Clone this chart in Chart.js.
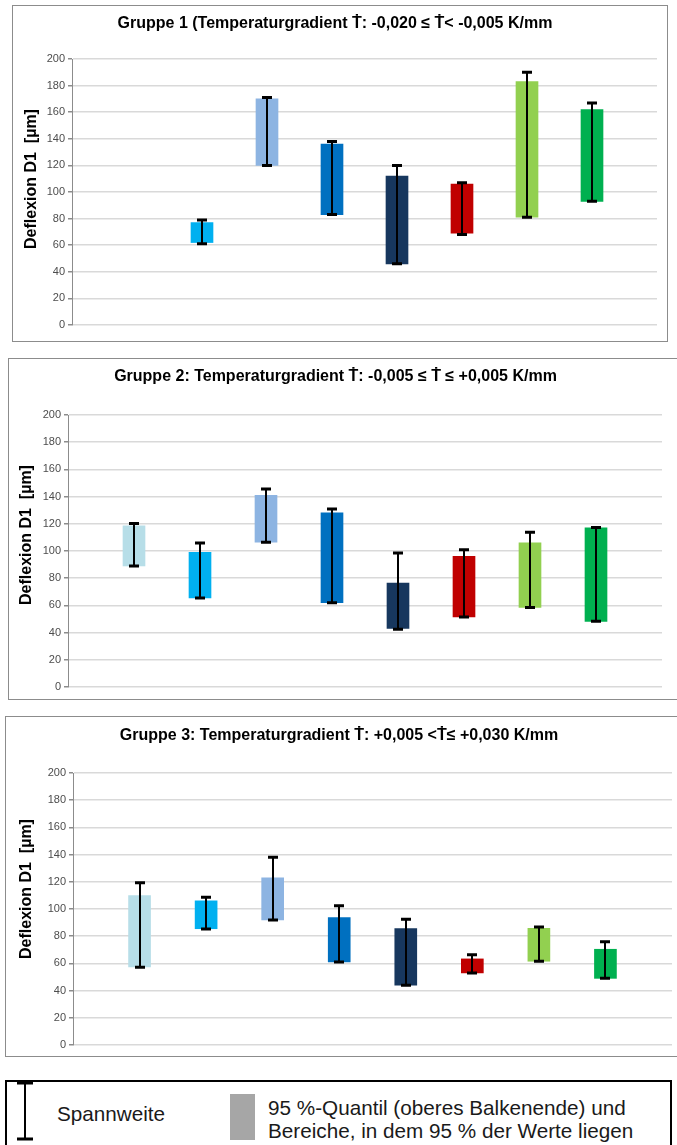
<!DOCTYPE html>
<html>
<head>
<meta charset="utf-8">
<script src="https://cdn.jsdelivr.net/npm/chart.js@4.4.1/dist/chart.umd.min.js"></script>
<style>
  body { margin: 0; background: #fff; width: 677px; height: 1145px; overflow: hidden; position: relative; font-family: "Liberation Sans", Arial, sans-serif; }
  .box { position: absolute; border: 1px solid #8c8c8c; box-sizing: border-box; background: #fff; }
  .box canvas { position: absolute; left: 0; top: 0; }
  #legend { position: absolute; left: 5px; top: 1080px; width: 667px; height: 75px; border: 2px solid #000; box-sizing: border-box; }
  .lg { position: absolute; color: #1a1a1a; font-size: 20.7px; white-space: nowrap; }
</style>
</head>
<body>

<div class="box" style="left:12px; top:5px; width:656px; height:337px;"><canvas id="c1" width="654" height="335"></canvas></div>
<div class="box" style="left:8px; top:358px; width:672px; height:342px;"><canvas id="c2" width="670" height="340"></canvas></div>
<div class="box" style="left:5px; top:716px; width:675px; height:341px;"><canvas id="c3" width="673" height="339"></canvas></div>

<div id="legend">
  <canvas id="lgIcon" width="34" height="70" style="position:absolute; left:0; top:0;"></canvas>
  <div class="lg" style="left:50px; top:20px; line-height:23px;">Spannweite</div>
  <div style="position:absolute; left:223px; top:12px; width:25px; height:46px; background:#a6a6a6;"></div>
  <div class="lg" style="left:261px; top:14px; line-height:23px;">95 %-Quantil (oberes Balkenende) und<br>Bereiche, in dem 95 % der Werte liegen</div>
</div>

<script>
// Kategorien (keine Beschriftung auf der x-Achse sichtbar)
const categories = ['K1', 'K2', 'K3', 'K4', 'K5', 'K6', 'K7', 'K8'];
const barColors = ['#b7dee8', '#00b0f0', '#8db4e2', '#0070c0', '#17375e', '#c00000', '#92d050', '#00b050'];
const yTicks = [0, 20, 40, 60, 80, 100, 120, 140, 160, 180, 200];

// Gruppe 1 : Balken = 95%-Bereich, Spannweite = min/max
const g1BarLow   = [null, 62, 120, 83, 46, 69, 81, 93];
const g1BarHigh  = [null, 77, 170, 136, 112, 106, 183, 162];
const g1RangeMin = [null, 61, 120, 83, 46, 68, 81, 93];
const g1RangeMax = [null, 79, 171, 138, 120, 107, 190, 167];

// Gruppe 2
const g2BarLow   = [89, 65.5, 106.5, 62, 43, 51.5, 58.5, 48.3];
const g2BarHigh  = [118.5, 99, 141, 128, 76.5, 96, 106, 117];
const g2RangeMin = [89, 65.5, 106.5, 62, 42.5, 51.5, 58.5, 48.3];
const g2RangeMax = [120.3, 105.8, 145.5, 130.8, 98.5, 101, 113.8, 117.2];

// Gruppe 3
const g3BarLow   = [57.5, 85.5, 92, 61, 44, 53, 61.6, 49];
const g3BarHigh  = [109.8, 106, 123, 93.6, 85.6, 63.3, 85.8, 70.4];
const g3RangeMin = [57.2, 85.3, 92, 61, 44, 53, 61.6, 49];
const g3RangeMax = [119.3, 108.6, 138, 102.4, 92.4, 66.3, 86.8, 76];

const titles = [
    'Gruppe 1 (Temperaturgradient \u1E6A: -0,020 \u2264 \u1E6A< -0,005 K/mm',
    'Gruppe 2: Temperaturgradient \u1E6A: -0,005 \u2264 \u1E6A \u2264 +0,005 K/mm',
    'Gruppe 3: Temperaturgradient \u1E6A: +0,005 <\u1E6A\u2264 +0,030 K/mm'
];
const yTitle = 'Deflexion D1  [\u00B5m]';

const FONT = '"Liberation Sans", Arial, "DejaVu Sans", sans-serif';

// Whisker (Spannweite) über den Balken zeichnen
const whiskerPlugin = {
    id: 'whiskers',
    afterDatasetsDraw(chart, args, opts) {
        const ctx = chart.ctx;
        const xs = chart.scales.x;
        const ys = chart.scales.y;
        ctx.save();
        ctx.strokeStyle = '#000';
        ctx.lineCap = 'butt';
        opts.min.forEach((lo, i) => {
            const hi = opts.max[i];
            if (lo === null || hi === null) return;
            const x = Math.round(xs.getPixelForValue(i + 1));
            const yTop = ys.getPixelForValue(hi);
            const yBot = ys.getPixelForValue(lo);
            ctx.lineWidth = 2;
            ctx.beginPath();
            ctx.moveTo(x, yTop);
            ctx.lineTo(x, yBot);
            ctx.stroke();
            ctx.lineWidth = 3;
            ctx.beginPath();
            ctx.moveTo(x - 5, yTop);
            ctx.lineTo(x + 5, yTop);
            ctx.moveTo(x - 5, yBot);
            ctx.lineTo(x + 5, yBot);
            ctx.stroke();
        });
        ctx.restore();
    }
};

// Achsentitel etwas oberhalb der Mitte (wie im Original)
const yTitlePlugin = {
    id: 'yTitle',
    afterDraw(chart, args, opts) {
        const ctx = chart.ctx;
        const area = chart.chartArea;
        ctx.save();
        ctx.translate(opts.x, (area.top + area.bottom) / 2 + opts.dy);
        ctx.rotate(-Math.PI / 2);
        ctx.fillStyle = '#000';
        ctx.font = 'bold 16px ' + FONT;
        ctx.textAlign = 'center';
        ctx.textBaseline = 'middle';
        ctx.fillText(opts.text, 0, 0);
        ctx.restore();
    }
};

function makeChart(id, title, barLow, barHigh, rangeMin, rangeMax, geo) {
    const canvas = document.getElementById(id);
    // leere Kategorie links und rechts -> Balken auf den Zwischenpositionen
    const labels = [''].concat(categories).concat(['']);
    const data = [null].concat(barLow.map((lo, i) => lo === null ? null : [lo, barHigh[i]])).concat([null]);
    const colors = ['#fff'].concat(barColors).concat(['#fff']);

    return new Chart(canvas.getContext('2d'), {
        type: 'bar',
        data: {
            labels: labels,
            datasets: [{
                data: data,
                backgroundColor: colors,
                borderWidth: 0,
                barThickness: 22,
                borderSkipped: false
            }]
        },
        options: {
            responsive: false,
            animation: false,
            events: [],
            layout: {
                padding: { left: 0, right: canvas.width - geo.right, top: 0, bottom: canvas.height - geo.bottom }
            },
            scales: {
                x: {
                    offset: false,
                    grid: { display: false, drawTicks: false },
                    border: { display: false },
                    ticks: { display: false }
                },
                y: {
                    min: 0,
                    max: 200,
                    afterBuildTicks: (axis) => { axis.ticks = yTicks.map(v => ({ value: v })); },
                    afterFit: (axis) => { axis.width = geo.left; },
                    grid: { color: '#d9d9d9', lineWidth: 1.5, tickLength: 4, tickColor: '#8c8c8c' },
                    border: { color: '#8c8c8c', width: 1 },
                    ticks: { color: '#4d4d4d', padding: 3, font: { family: FONT, size: 11 } }
                }
            },
            plugins: {
                legend: { display: false },
                tooltip: { enabled: false },
                title: {
                    display: true,
                    text: title,
                    color: '#000',
                    font: { family: FONT, size: 16, weight: 'bold' },
                    padding: { top: geo.titleY - 9.6, bottom: geo.top - (geo.titleY + 9.6) }
                },
                whiskers: { min: rangeMin, max: rangeMax },
                yTitle: { text: yTitle, x: geo.axisX, dy: geo.axisDy }
            }
        },
        plugins: [whiskerPlugin, yTitlePlugin]
    });
}

makeChart('c1', titles[0], g1BarLow, g1BarHigh, g1RangeMin, g1RangeMax,
    { left: 59, right: 644, top: 53, bottom: 319, titleY: 18, axisX: 19, axisDy: -13 });
makeChart('c2', titles[1], g2BarLow, g2BarHigh, g2RangeMin, g2RangeMax,
    { left: 59, right: 653, top: 56, bottom: 328, titleY: 18, axisX: 18, axisDy: -16 });
makeChart('c3', titles[2], g3BarLow, g3BarHigh, g3RangeMin, g3RangeMax,
    { left: 67, right: 666, top: 56, bottom: 328, titleY: 19, axisX: 21, axisDy: -20 });

// Legendensymbol Spannweite
const lg = document.getElementById('lgIcon').getContext('2d');
lg.strokeStyle = '#000';
lg.lineWidth = 2;
lg.beginPath(); lg.moveTo(18, 1); lg.lineTo(18, 57); lg.stroke();
lg.lineWidth = 3;
lg.beginPath(); lg.moveTo(10, 1); lg.lineTo(26, 1); lg.moveTo(10, 57); lg.lineTo(26, 57); lg.stroke();
</script>
</body>
</html>
